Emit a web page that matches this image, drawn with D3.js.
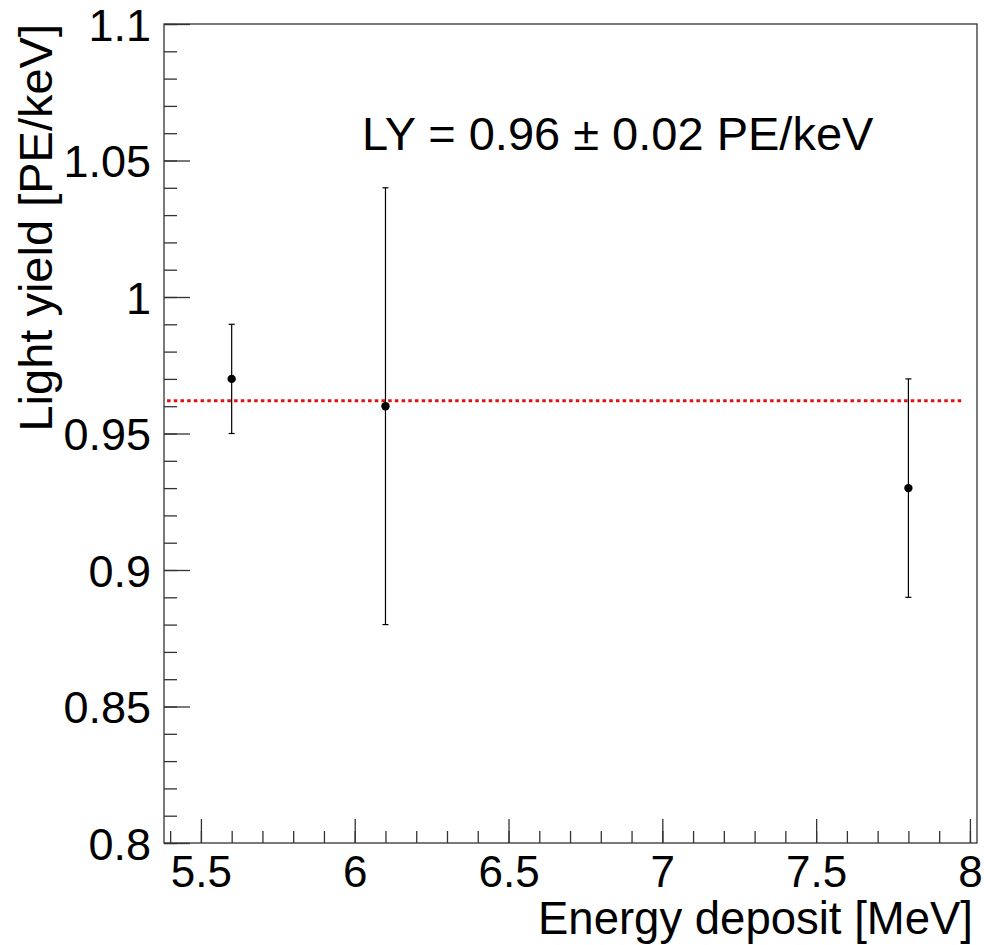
<!DOCTYPE html>
<meta charset="utf-8">
<script src="https://d3js.org/d3.v7.min.js"></script>
<style>
  body { margin: 0; background: #fff; }
  svg text { font-family: "Liberation Sans", Arial, sans-serif; fill: #000; }
  .axis path { display: none; }
  .axis line { stroke: #333; stroke-width: 1.3; }
</style>
<div id="chart"></div>
<script>
// measured points: energy [MeV], light yield [PE/keV], error
var energy = [5.6, 6.1, 7.8];
var lightYield = [0.97, 0.96, 0.93];
var lyError = [0.02, 0.08, 0.04];

// constant fit
var fitLY = 0.962;
var fitRange = [5.39, 7.98];
var fitLabel = "LY = 0.96 \u00b1 0.02 PE/keV";

var xMajor = [5.5, 6, 6.5, 7, 7.5, 8];
var yMajor = [0.8, 0.85, 0.9, 0.95, 1, 1.05, 1.1];

var W = 984, H = 945;
var margin = {top: 24, right: 7, bottom: 102, left: 164};
var width = W - margin.left - margin.right,
    height = H - margin.top - margin.bottom;

var svg = d3.select("#chart").append("svg")
    .attr("width", W)
    .attr("height", H)
  .append("g")
    .attr("transform", "translate(" + margin.left + "," + margin.top + ")");

var x = d3.scaleLinear().domain([5.38, 8.023]).range([0, width]);
var y = d3.scaleLinear().domain([0.8, 1.1]).range([height, 0]);

// minor ticks
var xMinor = d3.range(54, 81).map(function(d) { return d / 10; });
var yMinor = d3.range(80, 111).map(function(d) { return d / 100; });

svg.append("g").attr("class", "axis")
    .attr("transform", "translate(0," + height + ")")
    .call(d3.axisBottom(x).tickValues(xMinor).tickSize(-12).tickFormat(""));
svg.append("g").attr("class", "axis")
    .call(d3.axisLeft(y).tickValues(yMinor).tickSize(-13).tickFormat(""));

// major ticks + labels
var gx = svg.append("g").attr("class", "axis")
    .attr("transform", "translate(0," + height + ")")
    .call(d3.axisBottom(x).tickValues(xMajor).tickSize(-24).tickPadding(12)
      .tickFormat(function(d) { return d3.format("")(d); }));
gx.selectAll("text").style("font-size", "44px").attr("dy", "0.72em");

var gy = svg.append("g").attr("class", "axis")
    .call(d3.axisLeft(y).tickValues(yMajor).tickSize(-26).tickPadding(13)
      .tickFormat(function(d) { return d3.format("")(d); }));
gy.selectAll("text").style("font-size", "45px").attr("dy", "0.36em");

// frame
svg.append("rect")
    .attr("width", width).attr("height", height)
    .attr("fill", "none").attr("stroke", "#333").attr("stroke-width", 1.3);

// fit line
svg.append("line")
    .attr("x1", x(fitRange[0])).attr("x2", x(fitRange[1]))
    .attr("y1", y(fitLY)).attr("y2", y(fitLY))
    .attr("stroke", "#e41010")
    .attr("stroke-width", 3.2)
    .attr("stroke-dasharray", "3.5,3.2");

// points with error bars
var pts = energy.map(function(e, i) {
  return {x: e, y: lightYield[i], err: lyError[i]};
});

var g = svg.append("g").selectAll("g").data(pts).enter().append("g");
g.append("line")
    .attr("x1", function(d) { return x(d.x); })
    .attr("x2", function(d) { return x(d.x); })
    .attr("y1", function(d) { return y(d.y + d.err); })
    .attr("y2", function(d) { return y(d.y - d.err); })
    .attr("stroke", "#000").attr("stroke-width", 1.2);
[1, -1].forEach(function(s) {
  g.append("line")
      .attr("x1", function(d) { return x(d.x) - 3; })
      .attr("x2", function(d) { return x(d.x) + 3; })
      .attr("y1", function(d) { return y(d.y + s * d.err); })
      .attr("y2", function(d) { return y(d.y + s * d.err); })
      .attr("stroke", "#000").attr("stroke-width", 1.2);
});
g.append("circle")
    .attr("cx", function(d) { return x(d.x); })
    .attr("cy", function(d) { return y(d.y); })
    .attr("r", 4.2)
    .attr("fill", "#000");

// fit result text
svg.append("text")
    .attr("x", 198).attr("y", 126)
    .style("font-size", "47px")
    .text(fitLabel);

// axis titles
svg.append("text")
    .attr("x", width - 4).attr("y", height + 91)
    .attr("text-anchor", "end")
    .style("font-size", "45.5px")
    .text("Energy deposit [MeV]");

svg.append("text")
    .attr("transform", "translate(-112,0) rotate(-90)")
    .attr("text-anchor", "end")
    .style("font-size", "47px")
    .text("Light yield [PE/keV]");
</script>
